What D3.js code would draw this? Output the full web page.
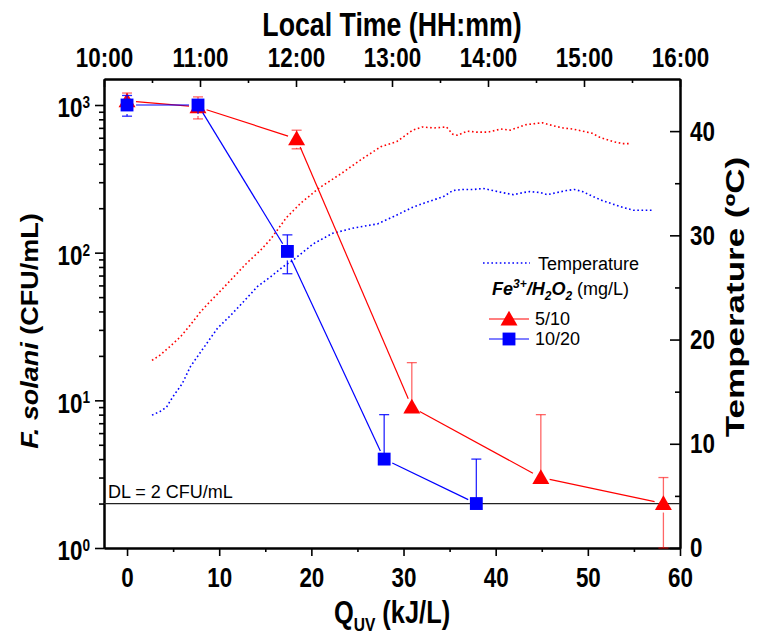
<!DOCTYPE html>
<html>
<head>
<meta charset="utf-8">
<script src="https://cdn.jsdelivr.net/npm/d3@7"></script>
<style>
  body { margin: 0; background: #fff; }
  text { font-family: "Liberation Sans", Arial, sans-serif; }
</style>
</head>
<body>
<div class="chart"></div>
<script>
// survival data, Q_UV in kJ/L, counts in CFU/mL
const qRed = [0, 7.7, 18.4, 30.9, 44.9, 58.2];
const cfuRed = [1065, 970, 590, 9, 3, 2];
const errRed = [140, 165, 85, 9, 5, 1];
const qBlue = [0, 7.7, 17.4, 27.9, 37.9];
const cfuBlue = [1000, 1000, 102, 4, 2];
const errBlue = [160, 30, 30, 4, 2];

// temperature logs (local time, ºC)
const redTempTime = ["10:30","10:35","10:41","10:48","10:54","11:00","11:06","11:13","11:21","11:29","11:38","11:44","11:54","12:03","12:15","12:28","12:40","12:53","13:03","13:13","13:19","13:26","13:34","13:38","13:41","13:47","13:53","14:00","14:08","14:14","14:18","14:23","14:34","14:41","14:47","14:53","14:59","15:05","15:10","15:18","15:24","15:28"];
const redTemp = [18.0,18.5,19.3,20.3,21.4,22.6,23.6,24.7,26.0,27.3,28.6,29.6,31.7,33.1,34.6,35.9,37.2,38.5,39.0,40.1,40.4,40.3,40.4,39.7,39.6,40.0,39.9,39.9,40.2,40.1,40.3,40.6,40.8,40.5,40.3,40.2,40.0,39.8,39.4,39.0,38.8,38.8];
const blueTempTime = ["10:30","10:35","10:39","10:43","10:49","10:54","10:59","11:05","11:11","11:19","11:27","11:36","11:44","11:52","11:58","12:11","12:23","12:36","12:51","13:01","13:13","13:22","13:32","13:38","13:44","13:51","13:57","14:03","14:09","14:16","14:22","14:26","14:33","14:37","14:43","14:49","14:54","14:59","15:06","15:12","15:18","15:24","15:31","15:43"];
const blueTemp = [12.75,13.1,13.5,14.5,15.8,17.4,18.5,19.8,21.1,22.3,23.6,25.1,26.0,27.0,27.6,29.2,30.2,30.7,31.1,31.8,32.7,33.2,33.7,34.3,34.4,34.4,34.5,34.3,34.1,33.9,34.1,34.2,34.1,33.9,34.1,34.3,34.4,34.2,33.7,33.3,33.0,32.7,32.4,32.4];

// ticks
const qTicks = [0, 10, 20, 30, 40, 50, 60];
const qMinor = [5, 15, 25, 35, 45, 55];
const cfuTicks = [1, 10, 100, 1000];
const tempTicks = [0, 10, 20, 30, 40];
const tempMinor = [5, 15, 25, 35];
const timeTicks = ["10:00","11:00","12:00","13:00","14:00","15:00","16:00"];
const timeMinor = ["10:30","11:30","12:30","13:30","14:30","15:30"];

const seriesNames = ["5/10", "10/20"];
const colors = ["#ff0000", "#0000ff"];

const margin = ({top: 79, right: 82, bottom: 93, left: 104});
const width = 762 - margin.left - margin.right,
      height = 641 - margin.top - margin.bottom;
const sx = 0.8; // bold labels are narrow in the original

const svg = d3.select(".chart").append("svg")
    .attr("width", 762)
    .attr("height", 641)
  .append("g")
    .attr("transform", `translate(${margin.left},${margin.top})`);

const parseTime = d3.timeParse("%H:%M");

const xScale = d3.scaleLinear().domain([-2.5, 60]).range([0, width]);
const yScale = d3.scaleLog().domain([1, 1500]).range([height, 0]);
const tScale = d3.scaleTime().domain([parseTime("10:00"), parseTime("16:00")]).range([0, width]);
const yTemp = d3.scaleLinear().domain([0, 45]).range([height, 0]);

// minor log ticks 2..9 per decade
let cfuMinor = [];
cfuTicks.slice(0, 3).forEach(d => { for (let k = 2; k < 10; k++) cfuMinor.push(d * k); });

function styleAxis(g) {
  g.select(".domain").attr("stroke", "#000").attr("stroke-width", 2);
  g.selectAll(".tick line").attr("stroke", "#000").attr("stroke-width", 1.6);
  g.selectAll(".tick text")
    .attr("font-family", '"Liberation Sans", Arial, sans-serif')
    .attr("font-size", 28).attr("font-weight", "bold").attr("fill", "#000");
}

// text placed at x,y and squeezed horizontally
function label(x, y, size, squeeze, rot) {
  return svg.append("g")
    .attr("transform", `translate(${x},${y}) scale(${squeeze},1) rotate(${rot || 0})`)
    .append("text")
    .attr("text-anchor", "middle")
    .attr("font-size", size).attr("font-weight", "bold");
}

// bottom axis
svg.append("g").attr("transform", `translate(0,${height})`)
  .call(d3.axisBottom(xScale).tickValues(qMinor).tickSize(4).tickSizeOuter(0).tickFormat(""))
  .call(styleAxis);
svg.append("g").attr("transform", `translate(0,${height})`)
  .call(d3.axisBottom(xScale).tickValues(qTicks).tickSize(8).tickSizeOuter(0).tickPadding(11))
  .call(styleAxis)
  .selectAll(".tick text").attr("transform", `scale(${sx},1)`);

// top axis (local time)
svg.append("g")
  .call(d3.axisTop(tScale).tickValues(timeMinor.map(parseTime)).tickSize(-4).tickSizeOuter(0).tickFormat(""))
  .call(styleAxis);
svg.append("g")
  .call(d3.axisTop(tScale).tickValues(timeTicks.map(parseTime)).tickSize(-8).tickSizeOuter(0)
    .tickPadding(12).tickFormat(d3.timeFormat("%H:%M")))
  .call(styleAxis)
  .selectAll(".tick text").attr("transform", `scale(${sx},1)`);

// left log axis
svg.append("g")
  .call(d3.axisLeft(yScale).tickValues(cfuMinor).tickSize(5).tickSizeOuter(0).tickFormat(""))
  .call(styleAxis);
const leftAxis = svg.append("g")
  .call(d3.axisLeft(yScale).tickValues(cfuTicks).tickSize(9).tickSizeOuter(0).tickFormat(""))
  .call(styleAxis);
leftAxis.selectAll(".tick").each(function(d) {
  const t = d3.select(this).append("text")
    .attr("x", -14 / sx).attr("dy", "0.42em")
    .attr("transform", `scale(${sx},1)`)
    .attr("text-anchor", "end")
    .attr("font-size", 28).attr("font-weight", "bold").attr("fill", "#000");
  t.append("tspan").text("10");
  t.append("tspan").attr("dy", "-0.55em").attr("font-size", 17).text(Math.round(Math.log10(d)));
});

// right temperature axis
svg.append("g").attr("transform", `translate(${width},0)`)
  .call(d3.axisRight(yTemp).tickValues(tempMinor).tickSize(-5).tickSizeOuter(0).tickFormat(""))
  .call(styleAxis);
svg.append("g").attr("transform", `translate(${width},0)`)
  .call(d3.axisRight(yTemp).tickValues(tempTicks).tickSize(-10).tickSizeOuter(0).tickPadding(10 / sx))
  .call(styleAxis)
  .selectAll(".tick text").attr("transform", `scale(${sx},1)`);

// axis titles
label(width / 2, 36 - margin.top, 33, 0.81).text("Local Time (HH:mm)");

const qTitle = label(width / 2, 623 - margin.top, 31, 0.82);
qTitle.append("tspan").text("Q");
qTitle.append("tspan").attr("dy", 8).attr("font-size", 19).text("UV");
qTitle.append("tspan").attr("dy", -8).text(" (kJ/L)");

const yTitle = label(38 - margin.left, 331 - margin.top, 27, 0.88, -90);
yTitle.append("tspan").attr("font-style", "italic").text("F. solani");
yTitle.append("tspan").text(" (CFU/mL)");

label(744 - margin.left, 297 - margin.top, 35, 0.72, -90).text("Temperature (ºC)");

// detection limit
svg.append("line")
  .attr("x1", 0).attr("x2", width)
  .attr("y1", yScale(2)).attr("y2", yScale(2))
  .attr("stroke", "#222").attr("stroke-width", 1.2);
svg.append("text")
  .attr("x", 4).attr("y", yScale(2) - 6)
  .attr("font-size", 18)
  .text("DL = 2 CFU/mL");

// temperature curves
const tempLine = d3.line()
  .x(d => tScale(parseTime(d[0])))
  .y(d => yTemp(d[1]));
[[redTempTime, redTemp], [blueTempTime, blueTemp]].forEach((s, i) => {
  svg.append("path")
    .datum(d3.zip(s[0], s[1]))
    .attr("d", tempLine)
    .attr("fill", "none")
    .attr("stroke", colors[i])
    .attr("stroke-width", 1.6)
    .attr("stroke-dasharray", "1.6,2.6");
});

// survival series
const triangle = d3.symbol().type(d3.symbolTriangle).size(125);
const square = d3.symbol().type(d3.symbolSquare).size(165);

function drawSeries(qs, vals, errs, color, i) {
  const pts = qs.map((q, k) => [xScale(q), yScale(vals[k])]);
  const g = svg.append("g");
  // connecting lines with a small gap near markers
  for (let k = 0; k < pts.length - 1; k++) {
    const [x1, y1] = pts[k], [x2, y2] = pts[k + 1];
    const len = Math.hypot(x2 - x1, y2 - y1), gap = 9;
    if (len <= 2 * gap) continue;
    const ux = (x2 - x1) / len, uy = (y2 - y1) / len;
    g.append("line")
      .attr("x1", x1 + ux * gap).attr("y1", y1 + uy * gap)
      .attr("x2", x2 - ux * gap).attr("y2", y2 - uy * gap)
      .attr("stroke", color).attr("stroke-width", 1.2);
  }
  // error bars
  qs.forEach((q, k) => {
    const x = xScale(q);
    const up = yScale(vals[k] + errs[k]);
    const lowVal = vals[k] - errs[k];
    const eg = g.append("g").attr("stroke", color).attr("stroke-width", 1.3)
      .attr("stroke-opacity", i === 0 ? 0.6 : 0.85);
    eg.append("line").attr("x1", x).attr("x2", x).attr("y1", yScale(vals[k])).attr("y2", up);
    eg.append("line").attr("x1", x - 5).attr("x2", x + 5).attr("y1", up).attr("y2", up);
    if (lowVal >= 1) {
      const lo = yScale(lowVal);
      eg.append("line").attr("x1", x).attr("x2", x).attr("y1", yScale(vals[k]) + 9).attr("y2", lo);
      eg.append("line").attr("x1", x - 5).attr("x2", x + 5).attr("y1", lo).attr("y2", lo);
    }
  });
  // markers
  g.selectAll("path.marker")
    .data(pts)
    .enter()
    .append("path")
    .attr("class", "marker")
    .attr("transform", d => `translate(${d[0]},${d[1] + (i === 0 ? 1.5 : 0)})`)
    .attr("d", i === 0 ? triangle : square)
    .attr("fill", color);
}
drawSeries(qRed, cfuRed, errRed, colors[0], 0);
drawSeries(qBlue, cfuBlue, errBlue, colors[1], 1);

// legend
const lg = svg.append("g").attr("transform", `translate(${483 - margin.left},${263 - margin.top})`);
lg.append("line").attr("x1", 0).attr("x2", 47).attr("y1", 0).attr("y2", 0)
  .attr("stroke", colors[1]).attr("stroke-width", 1.6).attr("stroke-dasharray", "1.6,2.6");
lg.append("text").attr("x", 55).attr("y", 7).attr("font-size", 18).text("Temperature");

const fe = lg.append("text").attr("x", 9).attr("y", 32).attr("font-size", 18);
fe.append("tspan").attr("font-weight", "bold").attr("font-style", "italic").text("Fe");
fe.append("tspan").attr("dy", -7).attr("font-size", 12).attr("font-weight", "bold").attr("font-style", "italic").text("3+");
fe.append("tspan").attr("dy", 7).attr("font-weight", "bold").attr("font-style", "italic").text("/H");
fe.append("tspan").attr("dy", 5).attr("font-size", 12).attr("font-weight", "bold").attr("font-style", "italic").text("2");
fe.append("tspan").attr("dy", -5).attr("font-weight", "bold").attr("font-style", "italic").text("O");
fe.append("tspan").attr("dy", 5).attr("font-size", 12).attr("font-weight", "bold").attr("font-style", "italic").text("2");
fe.append("tspan").attr("dy", -5).text(" (mg/L)");

seriesNames.forEach((name, i) => {
  const row = lg.append("g").attr("transform", `translate(6,${56 + i * 20})`);
  row.append("line").attr("x1", 0).attr("x2", 40).attr("y1", 0).attr("y2", 0)
    .attr("stroke", colors[i]).attr("stroke-width", 1.2);
  row.append("path").attr("transform", `translate(20,${i === 0 ? 1.5 : 0})`)
    .attr("d", i === 0 ? triangle : square).attr("fill", colors[i]);
  row.append("text").attr("x", 46).attr("y", 6).attr("font-size", 18).text(name);
});
</script>
</body>
</html>
